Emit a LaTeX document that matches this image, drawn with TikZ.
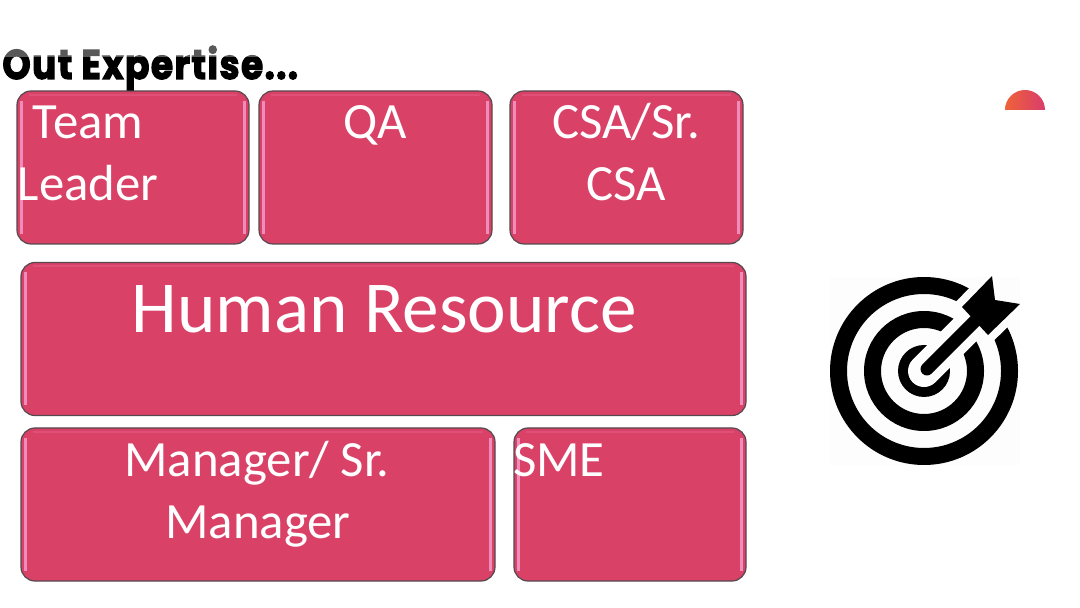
\documentclass[tikz,border=0pt]{standalone}
\usepackage{fontspec}
\setmainfont{Carlito}
\newfontfamily\titlefont[FakeBold=3,LetterSpace=4]{Poppins Bold}
\definecolor{boxpink}{HTML}{DA4167}
\definecolor{glosspink}{HTML}{F08CBB}
\definecolor{boxedge}{HTML}{54494F}
\definecolor{iconback}{HTML}{FDFDFD}
\definecolor{domeleft}{HTML}{EF6238}
\definecolor{domeright}{HTML}{D93C6C}
\tikzset{
  pinkbox/.style={draw=boxedge,fill=boxpink,line width=.6pt,rounded corners=7pt,
    minimum height=76.5pt,inner sep=0pt,outer sep=0pt,
    path picture={
      \draw[glosspink,line width=1.3pt]
        ([xshift=2.2pt,yshift=-5pt]path picture bounding box.north west) --
        ([xshift=2.2pt,yshift=5pt]path picture bounding box.south west);
      \draw[glosspink,line width=1.3pt]
        ([xshift=-2.2pt,yshift=-5pt]path picture bounding box.north east) --
        ([xshift=-2.2pt,yshift=5pt]path picture bounding box.south east);
      \draw[boxpink!80!glosspink,line width=1pt]
        ([xshift=6pt,yshift=-2pt]path picture bounding box.north west) --
        ([xshift=-6pt,yshift=-2pt]path picture bounding box.north east);
    }},
  boxtext/.style={text=white,font=\fontsize{25.4pt}{25.4pt}\selectfont,inner sep=0pt},
  bigtext/.style={text=white,font=\fontsize{36.6pt}{36.6pt}\selectfont,inner sep=0pt},
  titletext/.style={text=black,font=\titlefont\fontsize{18pt}{18pt}\selectfont,inner sep=0pt}
}
\begin{document}
\begin{tikzpicture}[x=.5pt,y=-.5pt]
  \useasboundingbox (0,0) rectangle (1080,608);
  % boxes
  \foreach \name/\cx/\cy/\bw in {team/133/167.5/116, qa/375.5/167.5/116.5, csa/626.5/167.5/116.5,
      hr/383.5/339/362.5, mgr/258/504.5/237, sme/630/504.5/116}
    \node[pinkbox,minimum width=\bw pt] (\name) at (\cx,\cy) {};
  % box texts
  \foreach \name/\tx/\ty/\txt in {ta/88/139/Team, tb/88/201/Leader, qb/375/139/QA,
      ca/626/139/{CSA/Sr.}, cb/626/201/CSA, ma/257/476/{Manager/ Sr.}, mb/258/538/Manager, sa/559/476/SME}
    \node[boxtext,anchor=base] (\name) at (\tx,\ty) {\txt};
  \node[bigtext,anchor=base] (hrtext) at (384,333) {Human Resource};
  % title
  \node[titletext,anchor=base west] (title) at (2,79) {\scalebox{1}[1.15]{Out Expertise...}};
  \fill[white,opacity=.35] (0,42) rectangle (310,57);
  % half disc
  \shade[left color=domeleft,right color=domeright] (1005,110) arc (180:360:20) -- cycle;
  % target icon
  \begin{scope}
    \clip (830,277) rectangle (1020,465);
    \fill[iconback] (830,277) rectangle (1020,465);
    \coordinate (mid) at (924,371);
    \fill[black,even odd rule] (mid) circle (94) (mid) circle (77);
    \fill[black,even odd rule] (mid) circle (60) (mid) circle (43);
    \fill[black,even odd rule] (mid) circle (26) (mid) circle (10);
    \draw[iconback,line width=16pt,line cap=round] (mid) -- (1000,295);
    \filldraw[iconback,draw=iconback,line width=8pt,line join=miter]
      (992,276) -- (995,300) -- (1020,304) -- (988,335) -- (962,307) -- cycle;
    \draw[black,line width=6.5pt,line cap=round] (927,369) -- (975,321);
    \fill[black] (992,276) -- (995,300) -- (1020,304) -- (988,335) -- (962,307) -- cycle;
  \end{scope}
\end{tikzpicture}
\end{document}
